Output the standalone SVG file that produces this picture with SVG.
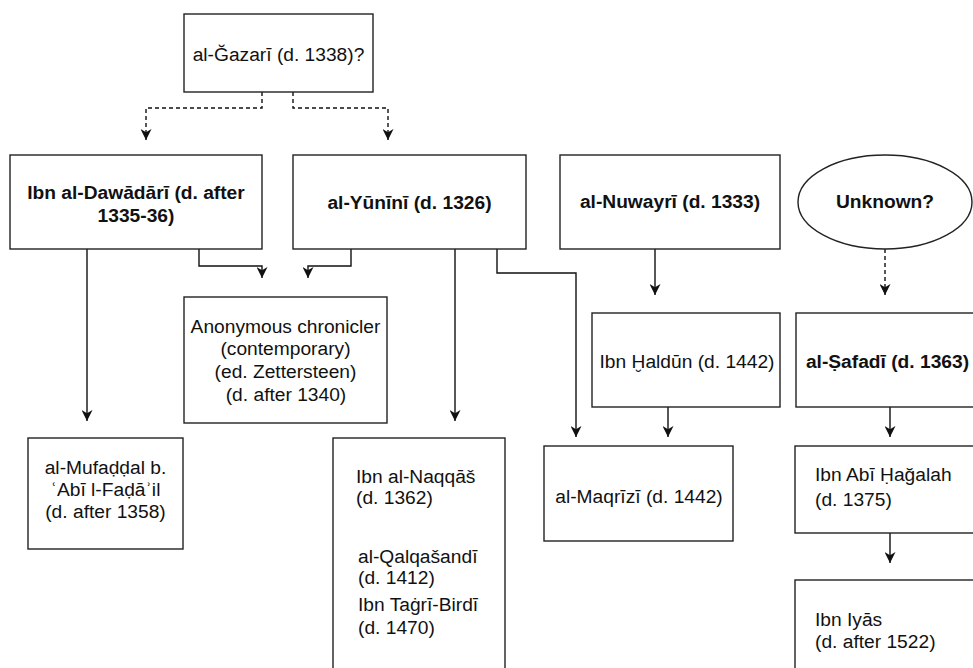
<svg xmlns="http://www.w3.org/2000/svg" width="973" height="668" viewBox="0 0 973 668">
<style>
.box{fill:#fff;stroke:#222;stroke-width:1.4}
.t{font-family:"Liberation Sans",Arial,Helvetica,sans-serif;font-size:19.2px;fill:#111}
.c{text-anchor:middle}
.b{font-weight:bold}
.ln{fill:none;stroke:#111;stroke-width:1.4}
.d{stroke-dasharray:4 3}
</style>
<defs>
<marker id="ah" viewBox="0 0 10 10" refX="10" refY="5" markerWidth="11" markerHeight="11" markerUnits="userSpaceOnUse" orient="auto">
<path d="M0,0 L10,5 L0,10 L3,5 Z" fill="#111"/>
</marker>
</defs>
<rect width="973" height="668" fill="#fff"/>
<g id="connectors">
<path class="ln d" d="M262,92 V108 H146 V140" marker-end="url(#ah)"/>
<path class="ln d" d="M293,92 V108 H388 V140" marker-end="url(#ah)"/>
<path class="ln" d="M87,249 V421" marker-end="url(#ah)"/>
<path class="ln" d="M199,249 V266 H262 V278" marker-end="url(#ah)"/>
<path class="ln" d="M351,249 V266 H308 V278" marker-end="url(#ah)"/>
<path class="ln" d="M455,249 V421" marker-end="url(#ah)"/>
<path class="ln" d="M497,249 V273 H576 V437" marker-end="url(#ah)"/>
<path class="ln" d="M655,249 V295" marker-end="url(#ah)"/>
<path class="ln d" d="M885,249 V295" marker-end="url(#ah)"/>
<path class="ln" d="M668,407 V437" marker-end="url(#ah)"/>
<path class="ln" d="M890,407 V437" marker-end="url(#ah)"/>
<path class="ln" d="M890,533 V563" marker-end="url(#ah)"/>
</g>
<g id="gazari">
<rect class="box" x="184" y="14" width="189" height="78"/>
<text class="t c" x="278.5" y="61">al-Ğazarī (d. 1338)?</text>
</g>
<g id="dawadari">
<rect class="box" x="10" y="155" width="252" height="94"/>
<text class="t c b" x="136" y="199">Ibn al-Dawādārī (d. after</text>
<text class="t c b" x="136" y="222">1335-36)</text>
</g>
<g id="yunini">
<rect class="box" x="293" y="155" width="233" height="94"/>
<text class="t c b" x="409.5" y="209">al-Yūnīnī (d. 1326)</text>
</g>
<g id="nuwayri">
<rect class="box" x="560" y="155" width="220" height="94"/>
<text class="t c b" x="670" y="208">al-Nuwayrī (d. 1333)</text>
</g>
<g id="unknown">
<ellipse class="box" cx="885" cy="202" rx="87" ry="47"/>
<text class="t c b" x="885" y="208">Unknown?</text>
</g>
<g id="anonymous">
<rect class="box" x="184" y="297" width="203" height="126"/>
<text class="t c" x="285.5" y="333">Anonymous chronicler</text>
<text class="t c" x="285.5" y="355">(contemporary)</text>
<text class="t c" x="285.5" y="378">(ed. Zettersteen)</text>
<text class="t c" x="286" y="401">(d. after 1340)</text>
</g>
<g id="haldun">
<rect class="box" x="592" y="313" width="188" height="94"/>
<text class="t c" x="687" y="368">Ibn Ḫaldūn (d. 1442)</text>
</g>
<g id="safadi">
<rect class="box" x="796" y="313" width="190" height="94"/>
<text class="t c b" x="887.5" y="368">al-Ṣafadī (d. 1363)</text>
</g>
<g id="mufaddal">
<rect class="box" x="28" y="438" width="155" height="111"/>
<text class="t c" x="105.5" y="474">al-Mufaḍḍal b.</text>
<text class="t c" x="105.5" y="496">ʿAbī l-Faḍāʾil</text>
<text class="t c" x="105.5" y="518">(d. after 1358)</text>
</g>
<g id="naqqas">
<rect class="box" x="333" y="438" width="172" height="250"/>
<text class="t" x="356" y="483">Ibn al-Naqqāš</text>
<text class="t" x="356" y="504">(d. 1362)</text>
<text class="t" x="358" y="563">al-Qalqašandī</text>
<text class="t" x="358" y="584">(d. 1412)</text>
<text class="t" x="358" y="611">Ibn Taġrī-Birdī</text>
<text class="t" x="358" y="634">(d. 1470)</text>
</g>
<g id="maqrizi">
<rect class="box" x="544" y="446" width="189" height="95"/>
<text class="t c" x="639" y="503">al-Maqrīzī (d. 1442)</text>
</g>
<g id="ibnabi">
<rect class="box" x="795" y="446" width="190" height="87"/>
<text class="t" x="815" y="481">Ibn Abī Ḥağalah</text>
<text class="t" x="815" y="506">(d. 1375)</text>
</g>
<g id="iyas">
<rect class="box" x="795" y="580" width="190" height="110"/>
<text class="t" x="815" y="626">Ibn Iyās</text>
<text class="t" x="815" y="648">(d. after 1522)</text>
</g>
</svg>
